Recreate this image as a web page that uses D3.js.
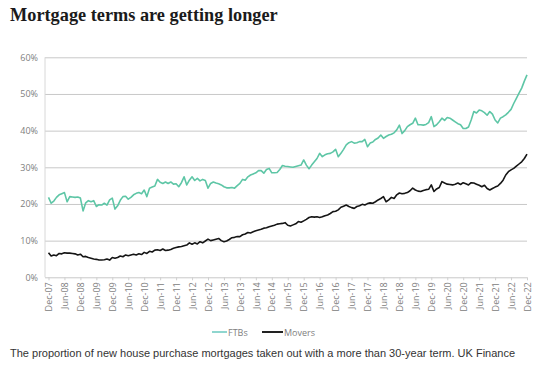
<!DOCTYPE html>
<html><head><meta charset="utf-8">
<script src="https://cdn.jsdelivr.net/npm/d3@7"></script>
<style>body{margin:0;background:#fff}svg{display:block}</style>
</head><body><svg id="c" width="550" height="369"></svg>
<script>
const tickLabels = ["Dec-07","Jun-08","Dec-08","Jun-09","Dec-09","Jun-10","Dec-10","Jun-11","Dec-11","Jun-12","Dec-12","Jun-13","Dec-13","Jun-14","Dec-14","Jun-15","Dec-15","Jun-16","Dec-16","Jun-17","Dec-17","Jun-18","Dec-18","Jun-19","Dec-19","Jun-20","Dec-20","Jun-21","Dec-21","Jun-22","Dec-22"];
const yTicks = [0,10,20,30,40,50,60];
const seriesNames = ["FTBs","Movers"];
const ftbs = [
21.8,20.2,20.8,21.8,22.5,22.8,23.1,20.6,22.0,21.9,
21.8,21.9,21.6,18.1,20.3,20.9,20.6,20.9,19.3,19.8,
19.7,20.2,19.7,21.1,21.6,18.6,19.5,21.0,22.0,22.1,
21.3,21.8,22.5,22.9,23.1,22.8,23.8,22.0,24.3,24.6,
24.9,26.7,25.9,25.6,26.0,25.6,26.0,25.4,25.5,24.7,
25.8,27.4,25.2,26.5,27.4,26.4,27.0,26.3,26.7,26.4,
24.3,25.6,26.0,25.7,25.5,25.2,24.7,24.4,24.4,24.5,
24.3,25.0,25.6,26.7,26.5,27.4,27.9,28.2,28.5,29.1,
29.1,28.4,29.4,29.7,28.5,28.5,28.6,29.4,30.5,30.3,
30.2,30.1,30.0,30.2,30.4,30.6,32.0,30.6,29.6,30.6,
31.5,32.4,33.8,32.9,33.4,33.7,33.8,34.2,34.9,32.9,
33.8,34.9,36.1,36.7,37.0,36.6,36.7,37.0,37.0,37.6,
35.6,36.6,36.9,37.6,38.0,38.8,37.9,38.4,38.8,39.0,
39.4,40.2,41.5,39.2,40.0,41.1,41.6,42.0,43.4,41.6,
41.6,41.5,41.7,42.2,43.8,41.1,41.6,42.4,43.4,42.8,
43.6,43.4,42.9,42.4,41.9,41.6,40.6,40.6,41.0,42.9,
45.2,44.8,45.6,45.4,44.9,44.2,45.2,44.5,42.9,42.1,
43.4,43.8,44.3,45.0,45.8,47.4,48.8,50.2,51.6,53.5,55.2];
const movers = [
6.7,5.8,6.1,5.9,6.5,6.4,6.7,6.6,6.6,6.5,
6.4,6.1,6.3,5.6,5.7,5.4,5.2,5.0,4.9,4.7,
4.7,4.8,5.0,4.7,5.4,5.2,5.4,5.8,5.6,6.1,
5.9,6.1,6.3,6.1,6.4,6.2,6.8,6.5,7.1,6.9,
7.4,7.5,7.3,7.7,7.3,7.4,7.6,7.9,8.1,8.3,
8.4,8.6,8.8,9.4,9.0,9.4,9.1,9.7,9.4,9.9,
10.4,10.0,10.2,10.4,10.6,10.0,9.7,9.9,10.3,10.8,
10.9,11.1,11.1,11.6,11.8,12.2,12.1,12.4,12.7,12.9,
13.1,13.4,13.5,13.8,14.0,14.2,14.5,14.6,14.7,14.9,
14.2,14.0,14.3,14.6,15.2,15.0,15.4,15.8,16.3,16.5,
16.4,16.5,16.3,16.5,16.8,17.0,17.4,17.9,18.0,18.4,
19.1,19.4,19.7,19.3,19.0,18.8,19.3,19.5,19.9,19.7,
20.1,20.3,20.2,20.6,21.1,21.5,22.0,20.6,21.1,21.8,
21.5,22.5,23.0,22.8,22.9,23.1,23.6,24.3,23.8,23.5,
23.4,23.7,23.9,24.0,25.2,23.4,24.1,24.5,26.1,25.7,
25.4,25.3,25.2,25.4,25.7,25.3,25.8,25.5,25.2,25.8,
25.7,25.4,25.1,24.7,25.1,24.2,23.8,24.2,24.6,24.9,
25.6,26.5,27.9,28.8,29.3,29.7,30.3,30.9,31.5,32.4,33.6];

const svg = d3.select("#c");
const pLeft = 45, pRight = 527, pTop = 57.3, pBottom = 277.3;
const x = d3.scaleLinear().domain([0, ftbs.length - 1]).range([48.5, 527]);
const y = d3.scaleLinear().domain([0, 60]).range([pBottom, pTop]);
const lab = "'Open Sans', sans-serif";

svg.append("text").attr("x", 10).attr("y", 20.5)
  .attr("font-family", "'Liberation Serif', serif").attr("font-weight", "bold")
  .attr("font-size", 18.3).attr("fill", "#1b1b1b")
  .text("Mortgage terms are getting longer");

const yAxis = d3.axisLeft(y).tickValues(yTicks).tickFormat(d => d + "%")
  .tickSize(-(pRight - pLeft)).tickPadding(7);
const gy = svg.append("g").attr("transform", `translate(${pLeft},0)`).call(yAxis);
gy.select(".domain").remove();
gy.selectAll(".tick line").attr("stroke", "#c8c8c8").attr("stroke-width", 1);
gy.selectAll(".tick text").attr("font-family", lab).attr("font-size", 9).attr("fill", "#808080");

svg.append("line").attr("x1", pLeft).attr("x2", pLeft).attr("y1", pTop).attr("y2", pBottom)
  .attr("stroke", "#d8d8d8");

const xAxis = d3.axisBottom(x).tickValues(d3.range(0, ftbs.length, 6))
  .tickFormat((d, i) => tickLabels[i]).tickSize(3);
const gx = svg.append("g").attr("transform", `translate(0,${pBottom})`).call(xAxis);
gx.select(".domain").remove();
gx.selectAll(".tick line").attr("stroke", "#cfcfcf");
gx.selectAll(".tick text").attr("font-family", lab).attr("font-size", 9).attr("fill", "#808080")
  .attr("transform", "rotate(-90)").attr("text-anchor", "end")
  .attr("x", -5).attr("y", 0).attr("dy", "0.35em");

const line = d3.line().x((d, i) => x(i)).y(d => y(d));
const colors = {FTBs: "#5ec6a6", Movers: "#151515"};
[ftbs, movers].forEach((s, k) => {
  svg.append("path").datum(s).attr("d", line).attr("fill", "none")
    .attr("stroke", colors[seriesNames[k]]).attr("stroke-width", 1.6)
    .attr("stroke-linejoin", "round");
});

const leg = [{n: "FTBs", x1: 212, x2: 227, c: "#8fd6cf"}, {n: "Movers", x1: 262, x2: 283, c: "#222"}];
leg.forEach(l => {
  svg.append("line").attr("x1", l.x1).attr("x2", l.x2).attr("y1", 332).attr("y2", 332)
    .attr("stroke", l.c).attr("stroke-width", 2);
  svg.append("text").attr("x", l.x2 + 1).attr("y", 335.5).attr("font-family", lab)
    .attr("font-size", 9).attr("fill", "#808080").text(l.n);
});

svg.append("text").attr("x", 10).attr("y", 357).attr("font-family", "'Liberation Sans', Arial, sans-serif")
  .attr("font-size", 11).attr("fill", "#333")
  .text("The proportion of new house purchase mortgages taken out with a more than 30-year term. UK Finance");
</script></body></html>
